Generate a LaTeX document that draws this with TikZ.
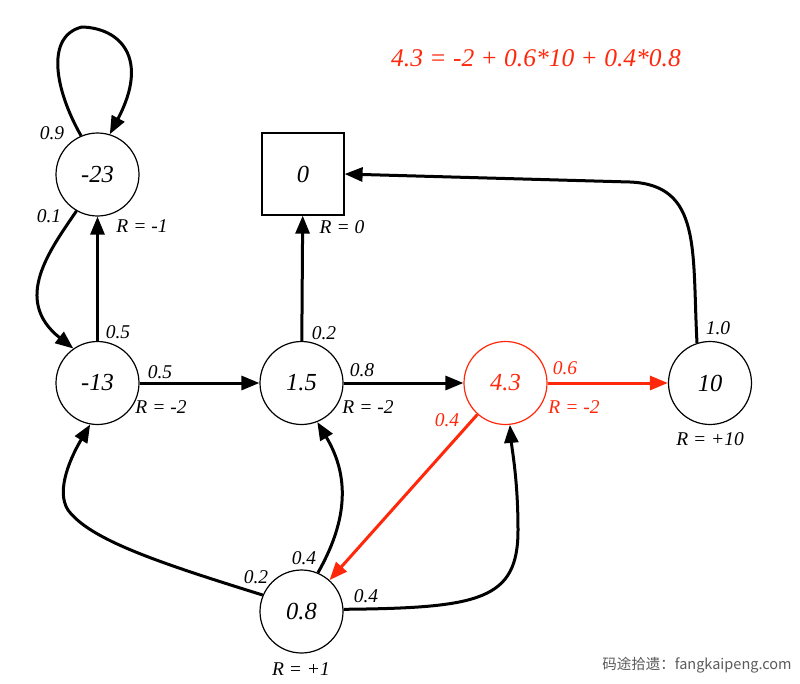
\documentclass[tikz,border=0pt]{standalone}
\usepackage{fontspec}
\setmainfont{Liberation Serif}
\newfontfamily\cjkfont{Noto Sans CJK SC}
\usetikzlibrary{arrows.meta}
\definecolor{hlred}{RGB}{255,40,10}
\definecolor{wmgray}{RGB}{90,90,90}
\begin{document}
\begin{tikzpicture}[x=1pt,y=-1pt,
  state/.style={circle, draw, line width=1.2pt, minimum size=83pt, inner sep=0pt,
    font=\fontsize{24.5}{28}\selectfont\itshape},
  term/.style={rectangle, draw, line width=1.2pt, minimum size=82pt, inner sep=0pt,
    font=\fontsize{24.5}{28}\selectfont\itshape},
  edge/.style={line width=3pt, -{Triangle[length=18pt,width=14pt]}},
  lbl/.style={font=\fontsize{19.5}{22}\selectfont\itshape, inner sep=0pt},
  ttl/.style={font=\fontsize{25.5}{28}\selectfont\itshape, inner sep=0pt, text=hlred},
  wm/.style={font=\cjkfont\fontsize{14.5}{16}\selectfont, inner sep=0pt, text=wmgray}
]
\useasboundingbox (0,0) rectangle (800,683);

% nodes
\node[state] (m23) at (97.5,174.5) {-23};
\node[state] (m13) at (97.5,383) {-13};
\node[state] (p15) at (301.5,383) {1.5};
\node[term]  (sq)  at (303,174) {0};
\node[state, draw=hlred, text=hlred] (n43) at (505.5,383) {4.3};
\node[state] (n10) at (710,383) {10};
\node[state] (m08) at (301.5,611.5) {0.8};

% edges
\draw[edge] (m23.113) .. controls (55,90) and (45,36) .. (82,27)
            .. controls (120,28) and (150,58) .. (m23.73);
\draw[edge] (m23.240) .. controls (50,250) and (12,300) .. (m13.125);
\draw[edge] (m13) -- (m23);
\draw[edge] (m13) -- (p15);
\draw[edge] (p15) -- (sq);
\draw[edge] (p15) -- (n43);
\draw[edge, hlred] (n43) -- (n10);
\draw[edge] (n10.108) .. controls (692,250) and (702,185) .. (630,182) -- (sq.east);
\draw[edge, hlred] (n43) -- (m08);
\draw[edge] (m08.157) .. controls (160,563) and (90,540) .. (68,510)
            .. controls (55,490) and (72,455) .. (m13.260);
\draw[edge] (m08.67) .. controls (345,525) and (352,480) .. (p15.292);
\draw[edge] (m08.3) .. controls (480,608) and (518,600) .. (518,530)
            .. controls (518,480) and (512,450) .. (n43.276);

% edge labels
\node[lbl] (l09) at (52,133) {0.9};
\node[lbl] (l01) at (49,216) {0.1};
\node[lbl] (l05a) at (118,332) {0.5};
\node[lbl] (l05b) at (160,372) {0.5};
\node[lbl] (l02a) at (324,333) {0.2};
\node[lbl] (l08) at (362,370) {0.8};
\node[lbl, text=hlred] (l06) at (565,368) {0.6};
\node[lbl, text=hlred] (l04r) at (447,420) {0.4};
\node[lbl] (l10) at (718,328) {1.0};
\node[lbl] (l04a) at (304,558) {0.4};
\node[lbl] (l02b) at (256,577) {0.2};
\node[lbl] (l04b) at (366,596) {0.4};

% reward labels
\node[lbl] (r23) at (142,226) {R = -1};
\node[lbl] (r0) at (342,227) {R = 0};
\node[lbl] (r13) at (161,407) {R = -2};
\node[lbl] (r15) at (368,407) {R = -2};
\node[lbl, text=hlred] (r43) at (574,407) {R = -2};
\node[lbl] (r10) at (710,439) {R = +10};
\node[lbl] (r08) at (301,669) {R = +1};

% title
\node[ttl] (title) at (536,58) {4.3 = -2 + 0.6*10 + 0.4*0.8};

% watermark
\node[wm] (wmk) at (697,665) {码途拾遗：fangkaipeng.com};
\end{tikzpicture}
\end{document}
